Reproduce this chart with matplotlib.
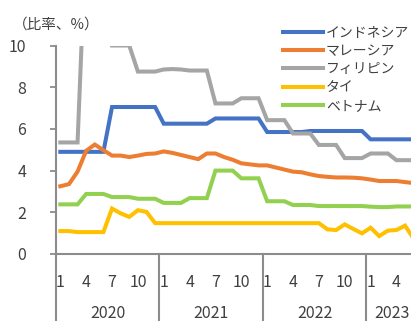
import matplotlib
matplotlib.use("Agg")
import matplotlib.pyplot as plt
import matplotlib.transforms as mtransforms
import numpy as np

plt.rcParams['font.family'] = ['Noto Sans CJK JP', 'DejaVu Sans']

# monthly values, Jan 2020 - Jun 2023
years = ["2020", "2021", "2022", "2023"]
months_per_year = [12, 12, 12, 6]
month_labels = ["1", "4", "7", "10"]

indonesia = [4.9, 4.9, 4.9, 4.9, 4.9, 4.9, 7.05, 7.05, 7.05, 7.05, 7.05, 7.05,
             6.25, 6.25, 6.25, 6.25, 6.25, 6.25, 6.5, 6.5, 6.5, 6.5, 6.5, 6.5,
             5.85, 5.85, 5.85, 5.85, 5.85, 5.9, 5.9, 5.9, 5.9, 5.9, 5.9, 5.9,
             5.5, 5.5, 5.5, 5.5, 5.5, 5.5]
malaysia = [3.25, 3.35, 3.95, 4.95, 5.25, 4.98, 4.72, 4.72, 4.65, 4.72, 4.8, 4.82,
            4.92, 4.85, 4.75, 4.65, 4.55, 4.82, 4.82, 4.65, 4.52, 4.35, 4.3, 4.25,
            4.25, 4.15, 4.05, 3.95, 3.92, 3.82, 3.74, 3.7, 3.67, 3.67, 3.66, 3.63,
            3.57, 3.5, 3.5, 3.5, 3.45, 3.4]
philippines = [5.35, 5.35, 5.35, 15.5, 15.5, 14.0, 10.0, 10.0, 10.0, 8.75, 8.75, 8.75,
               8.85, 8.87, 8.85, 8.8, 8.8, 8.8, 7.22, 7.22, 7.22, 7.47, 7.47, 7.47,
               6.42, 6.42, 6.42, 5.78, 5.78, 5.78, 5.23, 5.23, 5.23, 4.6, 4.6, 4.6,
               4.82, 4.82, 4.82, 4.5, 4.5, 4.5]
thailand = [1.1, 1.1, 1.05, 1.05, 1.05, 1.05, 2.18, 1.95, 1.78, 2.1, 2.02, 1.48,
            1.48, 1.48, 1.48, 1.48, 1.48, 1.48, 1.48, 1.48, 1.48, 1.48, 1.48, 1.48,
            1.48, 1.48, 1.48, 1.48, 1.48, 1.48, 1.48, 1.18, 1.15, 1.42, 1.2, 0.99,
            1.26, 0.86, 1.12, 1.15, 1.36, 0.73]
vietnam = [2.38, 2.38, 2.38, 2.88, 2.88, 2.88, 2.73, 2.73, 2.73, 2.65, 2.65, 2.65,
           2.45, 2.45, 2.45, 2.68, 2.68, 2.68, 4.0, 4.0, 4.0, 3.63, 3.63, 3.63,
           2.53, 2.53, 2.53, 2.35, 2.35, 2.35, 2.3, 2.3, 2.3, 2.3, 2.3, 2.3,
           2.27, 2.25, 2.25, 2.28, 2.28, 2.28]

names = ["インドネシア", "マレーシア", "フィリピン", "タイ", "ベトナム"]
colors = ["#4472C4", "#ED7D31", "#A5A5A5", "#FFC000", "#92D050"]
series = [indonesia, malaysia, philippines, thailand, vietnam]

axis_col = "#8c8c8c"

fig = plt.figure(figsize=(4.11, 3.21), dpi=100)
# axes runs a little past the right edge (the original is cropped)
ax = fig.add_axes([56 / 411, 67 / 321, 362 / 411, 208.5 / 321])

x = np.arange(len(indonesia))
for vals, name, c in zip(series, names, colors):
    ax.plot(x, vals, color=c, lw=2.9, label=name, solid_joinstyle="miter")

n = sum(months_per_year)
ax.set_xlim(-0.5, n - 0.5)
ax.set_ylim(0, 10)
ax.set_yticks(range(0, 11, 2))
ax.tick_params(axis="y", length=4, width=1.3, color=axis_col, pad=17.5, labelsize=11.5,
               labelcolor="#404040")

for s in ["top", "right"]:
    ax.spines[s].set_visible(False)
for s in ["left", "bottom"]:
    ax.spines[s].set_color(axis_col)
    ax.spines[s].set_linewidth(1.5)

# month ticks
ticks, labels = [], []
start = 0
for cnt in months_per_year:
    for m in range(0, cnt, 3):
        ticks.append(start + m)
        labels.append(month_labels[m // 3])
    start += cnt
ax.set_xticks(ticks)
ax.set_xticklabels(labels)
ax.tick_params(axis="x", length=0, pad=14.5, labelsize=11.5, labelcolor="#404040")

# year labels and separators
trans = mtransforms.blended_transform_factory(ax.transData, ax.transAxes)
bottom = -0.33
ax.plot([-0.5, -0.5], [0, bottom], transform=trans, color=axis_col, lw=1.5, clip_on=False)
start = 0
for yr, cnt in zip(years, months_per_year):
    ax.text(start + (cnt - 1) / 2, -0.283, yr, transform=trans, ha="center", va="center",
            fontsize=11.5, color="#404040")
    start += cnt
    if start < n:
        ax.plot([start - 0.5, start - 0.5], [0, bottom], transform=trans,
                color=axis_col, lw=1.5, clip_on=False)

fig.text(13 / 411, 1 - 25 / 321, "（比率、%）", ha="left", va="center", fontsize=10.5,
         color="#404040")

leg = fig.legend(loc="upper left", bbox_to_anchor=(283 / 411, 1 - 26 / 321),
                 frameon=False, borderaxespad=0, borderpad=0, fontsize=10,
                 handlelength=2.85, handletextpad=0.25, labelspacing=0.3)
for t in leg.get_texts():
    t.set_color("#404040")

fig.savefig("out.png", dpi=100)
